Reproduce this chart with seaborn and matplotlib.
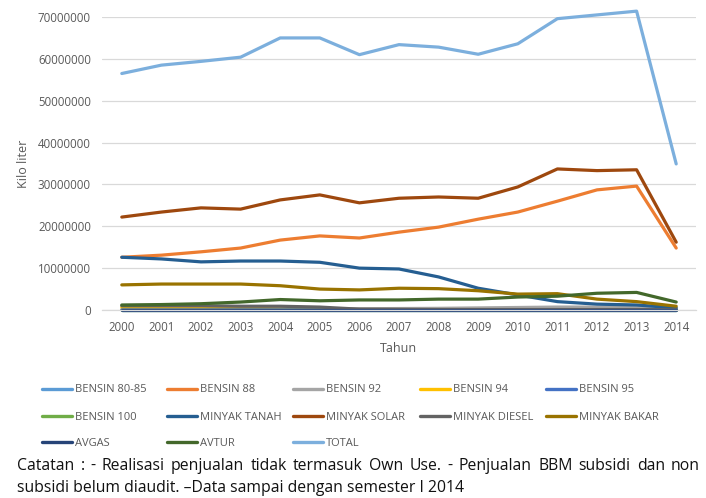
import matplotlib
matplotlib.use("Agg")
import matplotlib.pyplot as plt
from matplotlib.lines import Line2D
from matplotlib import font_manager
import seaborn as sns
import pandas as pd

years = list(range(2000, 2015))

bensin_80_85 = [0.0] * 15
bensin_88 = [12.6, 13.1, 13.9, 14.8, 16.7, 17.7, 17.2, 18.6, 19.8, 21.7, 23.4, 26.0, 28.7, 29.6, 14.8]
bensin_92 = [0.05, 0.1, 0.15, 0.2, 0.25, 0.3, 0.3, 0.35, 0.4, 0.5, 0.6, 0.7, 0.7, 0.8, 0.4]
bensin_94 = [0.6, 0.6, 0.55, 0.5, 0.2, 0.1, 0.1, 0.1, 0.1, 0.1, 0.1, 0.1, 0.1, 0.1, 0.05]
bensin_95 = [0.02, 0.02, 0.02, 0.03, 0.03, 0.03, 0.04, 0.05, 0.05, 0.06, 0.07, 0.08, 0.1, 0.1, 0.05]
bensin_100 = [0.0] * 15
minyak_tanah = [12.6, 12.2, 11.5, 11.7, 11.7, 11.4, 10.0, 9.8, 7.9, 5.2, 3.6, 2.0, 1.4, 1.2, 0.5]
minyak_solar = [22.2, 23.4, 24.4, 24.1, 26.3, 27.5, 25.6, 26.7, 27.0, 26.7, 29.4, 33.7, 33.3, 33.5, 16.2]
minyak_diesel = [1.0, 1.0, 1.0, 0.9, 0.9, 0.7, 0.2, 0.15, 0.1, 0.1, 0.1, 0.1, 0.1, 0.1, 0.05]
minyak_bakar = [6.0, 6.2, 6.2, 6.2, 5.8, 5.0, 4.8, 5.2, 5.1, 4.6, 3.8, 3.9, 2.6, 2.0, 0.9]
avgas = [0.01] * 15
avtur = [1.2, 1.3, 1.5, 1.9, 2.5, 2.2, 2.4, 2.4, 2.6, 2.6, 3.1, 3.3, 4.0, 4.2, 1.9]
total = [56.5, 58.5, 59.4, 60.4, 65.0, 65.0, 61.0, 63.4, 62.8, 61.1, 63.6, 69.6, 70.5, 71.4, 34.9]

series_names = ["BENSIN 80-85", "BENSIN 88", "BENSIN 92", "BENSIN 94", "BENSIN 95",
                "BENSIN 100", "MINYAK TANAH", "MINYAK SOLAR", "MINYAK DIESEL", "MINYAK BAKAR",
                "AVGAS", "AVTUR", "TOTAL"]
series_values = [bensin_80_85, bensin_88, bensin_92, bensin_94, bensin_95,
                 bensin_100, minyak_tanah, minyak_solar, minyak_diesel, minyak_bakar,
                 avgas, avtur, total]
colors = ["#5B9BD5", "#ED7D31", "#A5A5A5", "#FFC000", "#4472C4",
          "#70AD47", "#255E91", "#9E480E", "#636363", "#997300",
          "#264478", "#43682B", "#7CAFDD"]
palette = dict(zip(series_names, colors))

rows = []
for name, vals in zip(series_names, series_values):
    for y, v in zip(years, vals):
        rows.append({"Tahun": y, "Nilai": v * 1e6, "Seri": name})
df = pd.DataFrame(rows)

sns.set_style("white")
available = {f.name for f in font_manager.fontManager.ttflist}
main_font = "Open Sans" if "Open Sans" in available else "DejaVu Sans"
plt.rcParams["font.family"] = [main_font, "DejaVu Sans"]

W, H = 706, 498
fig = plt.figure(figsize=(W / 100, H / 100), dpi=100)
ax = fig.add_axes([102 / W, 1 - 310 / H, 594 / W, 293 / H])

ax.set_axisbelow(True)
ax.grid(axis="y", color="#D9D9D9", linewidth=0.9)
ax.grid(axis="x", visible=False)

sns.lineplot(data=df, x="Tahun", y="Nilai", hue="Seri", hue_order=series_names,
             palette=palette, linewidth=2.3, legend=False, sort=False, ax=ax,
             solid_capstyle="round", solid_joinstyle="round")
for ln in ax.get_lines():
    ln.set_clip_on(False)

ax.set_xlim(1999.5, 2014.5)
ax.set_ylim(0, 70e6)
ax.set_yticks([i * 10e6 for i in range(8)])
ax.set_yticklabels([str(i * 10000000) for i in range(8)])
ax.set_xticks(years)
ax.set_xticklabels([str(y) for y in years])
ax.tick_params(axis="both", length=0, labelsize=8.3, colors="#595959")
ax.tick_params(axis="y", pad=8)
ax.tick_params(axis="x", pad=8)
for s in ["top", "right", "left"]:
    ax.spines[s].set_visible(False)
ax.spines["bottom"].set_color("#D9D9D9")
ax.spines["bottom"].set_linewidth(0.9)

ax.set_xlabel("Tahun", fontsize=9, color="#595959", labelpad=6)
ax.set_ylabel("Kilo liter", fontsize=9, color="#595959", labelpad=6)

# legend entries placed in Excel-like fixed grid
col_x = [42, 167, 293, 420, 546]
row_y = [390, 417, 443]
for i, name in enumerate(series_names):
    r, c = divmod(i, 5)
    h = Line2D([], [], color=palette[name], linewidth=2.4)
    fig.legend(handles=[h], labels=[name], loc="center left",
               bbox_to_anchor=(col_x[c] / W, 1 - row_y[r] / H),
               frameon=False, borderpad=0, borderaxespad=0,
               handlelength=2.7, handletextpad=0.25,
               prop={"family": [main_font, "DejaVu Sans"], "size": 8.0},
               labelcolor="#595959")

# justified caption
line1 = "Catatan : - Realisasi penjualan tidak termasuk Own Use. - Penjualan BBM subsidi dan non"
line2 = "subsidi belum diaudit. \u2013Data sampai dengan semester I 2014"
cap_size = 11.3
renderer = fig.canvas.get_renderer()
words = line1.split(" ")
texts = []
for w in words:
    t = fig.text(0, 1 - 466 / H, w, fontsize=cap_size, color="#111111", va="center", ha="left")
    texts.append(t)
widths = [t.get_window_extent(renderer).width for t in texts]
x0, x1 = 17, 700
gap = (x1 - x0 - sum(widths)) / (len(words) - 1)
x = x0
for t, wd in zip(texts, widths):
    t.set_x(x / W)
    x += wd + gap
fig.text(x0 / W, 1 - 488 / H, line2, fontsize=cap_size, color="#111111", va="center", ha="left")

fig.savefig("out.png", dpi=100)
